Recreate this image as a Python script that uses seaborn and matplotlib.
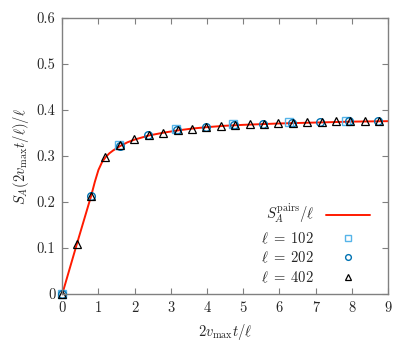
import numpy as np
import pandas as pd
import matplotlib
matplotlib.use("Agg")
import matplotlib.pyplot as plt
import seaborn as sns

# Theory curve S_A^pairs / l
curve_x = [0.0, 0.2, 0.4, 0.6, 0.8, 0.9, 1.0, 1.1, 1.2, 1.3, 1.4, 1.6, 1.8, 2.0, 2.4, 2.8,
           3.2, 3.6, 4.0, 4.5, 5.0, 6.0, 7.0, 8.0, 9.0]
curve_y = [0.0, 0.054, 0.108, 0.161, 0.214, 0.244, 0.270, 0.287, 0.298, 0.306, 0.312, 0.322,
           0.330, 0.336, 0.345, 0.351, 0.356, 0.360, 0.363, 0.366, 0.368, 0.371, 0.373, 0.375, 0.376]

# l = 102
x102 = [0.0, 1.569, 3.137, 4.706, 6.275, 7.843]
y102 = [0.0, 0.325, 0.358, 0.369, 0.374, 0.377]

# l = 202
x202 = [0.0, 0.792, 1.584, 2.376, 3.168, 3.960, 4.752, 5.545, 6.337, 7.129, 7.921, 8.713]
y202 = [0.0, 0.214, 0.323, 0.346, 0.357, 0.363, 0.367, 0.370, 0.373, 0.375, 0.376, 0.377]

# l = 402
x402 = [0.0, 0.398, 0.796, 1.194, 1.592, 1.990, 2.388, 2.786, 3.184, 3.582, 3.980, 4.378,
        4.776, 5.174, 5.572, 5.970, 6.368, 6.766, 7.164, 7.562, 7.960, 8.358, 8.756]
y402 = [0.0, 0.108, 0.214, 0.298, 0.324, 0.337, 0.346, 0.351, 0.356, 0.360, 0.363, 0.366,
        0.367, 0.369, 0.370, 0.372, 0.373, 0.374, 0.375, 0.376, 0.376, 0.377, 0.377]

xticks = [0, 1, 2, 3, 4, 5, 6, 7, 8, 9]
yticks = [0, 0.1, 0.2, 0.3, 0.4, 0.5, 0.6]
ytick_labels = ["0", "0.1", "0.2", "0.3", "0.4", "0.5", "0.6"]

sns.set_style("ticks")
plt.rcParams["font.family"] = "serif"
plt.rcParams["font.serif"] = ["cmr10", "DejaVu Serif"]
plt.rcParams["mathtext.fontset"] = "cm"
plt.rcParams["axes.formatter.use_mathtext"] = True

fig = plt.figure(figsize=(4.15, 3.42), dpi=100)
ax = fig.add_axes([0.150, 0.140, 0.785, 0.807])

sns.lineplot(x=curve_x, y=curve_y, ax=ax, color="#ff1a00", lw=1.4, sort=False,
             label=r"$S_A^{\mathrm{pairs}}/\ell$")
sns.lineplot(x=x102, y=y102, ax=ax, linestyle="", marker="s", ms=5.5, mfc="none",
             mec="#56B4E9", mew=1.0, label=r"$\ell\;=\;102$", sort=False, clip_on=False)
sns.lineplot(x=x202, y=y202, ax=ax, linestyle="", marker="o", ms=5.5, mfc="none",
             mec="#0072B2", mew=1.0, label=r"$\ell\;=\;202$", sort=False, clip_on=False)
sns.lineplot(x=x402, y=y402, ax=ax, linestyle="", marker="^", ms=5.5, mfc="none",
             mec="black", mew=0.9, label=r"$\ell\;=\;402$", sort=False, clip_on=False)

ax.set_xlim(0, 9)
ax.set_ylim(0, 0.6)
ax.set_xticks(xticks)
ax.set_xticklabels([str(t) for t in xticks])
ax.set_yticks(yticks)
ax.set_yticklabels(ytick_labels)
for s in ax.spines.values():
    s.set_color("#808080")
    s.set_linewidth(1.0)
ax.tick_params(direction="in", length=4, width=0.8, color="#808080",
               top=True, right=True, labelsize=10.5, pad=5)

ax.set_xlabel(r"$2v_{\max}t/\ell$", fontsize=10.5, labelpad=5)
ax.set_ylabel(r"$S_A(2v_{\max}t/\ell)/\ell$", fontsize=10.5, labelpad=4)

leg = ax.legend(loc="lower right", bbox_to_anchor=(0.97, 0.0), frameon=False,
                markerfirst=False, fontsize=10.5, handlelength=3.0, markerscale=0.75,
                labelspacing=0.3, handletextpad=0.8, borderaxespad=0.2)
for t in leg.get_texts():
    t.set_ha("right")

fig.savefig("out.png", dpi=100)
